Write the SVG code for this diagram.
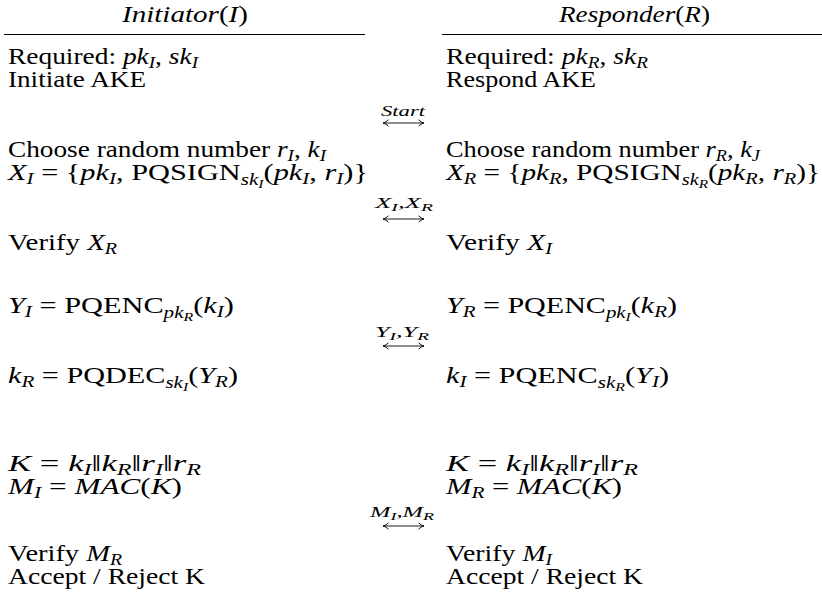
<svg xmlns="http://www.w3.org/2000/svg" width="822" height="605" viewBox="0 0 822 605">
<defs>
<style>
.t{font-family:"Liberation Serif",serif;font-size:23px;fill:#000}
.h{font-family:"Liberation Serif",serif;font-size:23px;fill:#000}
.i{font-style:italic}
.s{font-size:16px}
.ss{font-size:12px}
.lb{font-family:"Liberation Serif",serif;font-size:15px;font-style:italic;fill:#000}
.lbs{font-size:11px}
.rule{stroke:#000;stroke-width:1}
.arr{stroke:#000;stroke-width:0.9;fill:none;marker-start:url(#ah);marker-end:url(#ah)}
</style>
<marker id="ah" viewBox="0 0 8 8" refX="7" refY="4" markerWidth="8" markerHeight="8" markerUnits="userSpaceOnUse" orient="auto-start-reverse">
<path d="M1.5,0.8 Q4,3.3 7,4 Q4,4.7 1.5,7.2" fill="none" stroke="#000" stroke-width="0.9"/>
</marker>
</defs>
<rect width="822" height="605" fill="#fff"/>

<g id="initiator">
<text class="h" x="122" y="22" textLength="126" lengthAdjust="spacingAndGlyphs"><tspan class="i">Initiator</tspan>(<tspan class="i">I</tspan>)</text>
<line class="rule" x1="4" y1="34.5" x2="365" y2="34.5"/>
<text class="t" x="8" y="64" textLength="190" lengthAdjust="spacingAndGlyphs">Required: <tspan class="i">pk</tspan><tspan class="s i" dy="4">I</tspan><tspan dy="-4">, </tspan><tspan class="i">sk</tspan><tspan class="s i" dy="4">I</tspan></text>
<text class="t" x="8" y="87" textLength="138" lengthAdjust="spacingAndGlyphs">Initiate AKE</text>
<text class="t" x="8" y="157" textLength="318" lengthAdjust="spacingAndGlyphs">Choose random number <tspan class="i">r</tspan><tspan class="s i" dy="4">I</tspan><tspan dy="-4">, </tspan><tspan class="i">k</tspan><tspan class="s i" dy="4">I</tspan></text>
<text class="t" x="8" y="180" textLength="360" lengthAdjust="spacingAndGlyphs"><tspan class="i">X</tspan><tspan class="s i" dy="4">I</tspan><tspan dy="-4"> = {</tspan><tspan class="i">pk</tspan><tspan class="s i" dy="4">I</tspan><tspan dy="-4">, PQSIGN</tspan><tspan class="s i" dy="5">sk</tspan><tspan class="ss i" dy="3">I</tspan><tspan dy="-8">(</tspan><tspan class="i">pk</tspan><tspan class="s i" dy="4">I</tspan><tspan dy="-4">, </tspan><tspan class="i">r</tspan><tspan class="s i" dy="4">I</tspan><tspan dy="-4">)}</tspan></text>
<text class="t" x="8" y="250" textLength="109" lengthAdjust="spacingAndGlyphs">Verify <tspan class="i">X</tspan><tspan class="s i" dy="4">R</tspan></text>
<text class="t" x="8" y="313" textLength="226" lengthAdjust="spacingAndGlyphs"><tspan class="i">Y</tspan><tspan class="s i" dy="4">I</tspan><tspan dy="-4"> = PQENC</tspan><tspan class="s i" dy="5">pk</tspan><tspan class="ss i" dy="3">R</tspan><tspan dy="-8">(</tspan><tspan class="i">k</tspan><tspan class="s i" dy="4">I</tspan><tspan dy="-4">)</tspan></text>
<text class="t" x="8" y="383" textLength="230" lengthAdjust="spacingAndGlyphs"><tspan class="i">k</tspan><tspan class="s i" dy="4">R</tspan><tspan dy="-4"> = PQDEC</tspan><tspan class="s i" dy="5">sk</tspan><tspan class="ss i" dy="3">I</tspan><tspan dy="-8">(</tspan><tspan class="i">Y</tspan><tspan class="s i" dy="4">R</tspan><tspan dy="-4">)</tspan></text>
<text class="t" x="8" y="471" textLength="193" lengthAdjust="spacingAndGlyphs"><tspan class="i">K</tspan> = <tspan class="i">k</tspan><tspan class="s i" dy="4">I</tspan><tspan dy="-4">‖</tspan><tspan class="i">k</tspan><tspan class="s i" dy="4">R</tspan><tspan dy="-4">‖</tspan><tspan class="i">r</tspan><tspan class="s i" dy="4">I</tspan><tspan dy="-4">‖</tspan><tspan class="i">r</tspan><tspan class="s i" dy="4">R</tspan></text>
<text class="t" x="8" y="494" textLength="174" lengthAdjust="spacingAndGlyphs"><tspan class="i">M</tspan><tspan class="s i" dy="4">I</tspan><tspan dy="-4"> = </tspan><tspan class="i">MAC</tspan>(<tspan class="i">K</tspan>)</text>
<text class="t" x="8" y="561" textLength="114" lengthAdjust="spacingAndGlyphs">Verify <tspan class="i">M</tspan><tspan class="s i" dy="4">R</tspan></text>
<text class="t" x="8" y="584" textLength="197" lengthAdjust="spacingAndGlyphs">Accept / Reject K</text>
</g>

<g id="responder">
<text class="h" x="559" y="22" textLength="151" lengthAdjust="spacingAndGlyphs"><tspan class="i">Responder</tspan>(<tspan class="i">R</tspan>)</text>
<line class="rule" x1="442" y1="34.5" x2="822" y2="34.5"/>
<text class="t" x="446" y="64" textLength="202" lengthAdjust="spacingAndGlyphs">Required: <tspan class="i">pk</tspan><tspan class="s i" dy="4">R</tspan><tspan dy="-4">, </tspan><tspan class="i">sk</tspan><tspan class="s i" dy="4">R</tspan></text>
<text class="t" x="446" y="87" textLength="150" lengthAdjust="spacingAndGlyphs">Respond AKE</text>
<text class="t" x="446" y="157" textLength="314" lengthAdjust="spacingAndGlyphs">Choose random number <tspan class="i">r</tspan><tspan class="s i" dy="4">R</tspan><tspan dy="-4">, </tspan><tspan class="i">k</tspan><tspan class="s i" dy="4">J</tspan></text>
<text class="t" x="446" y="180" textLength="374" lengthAdjust="spacingAndGlyphs"><tspan class="i">X</tspan><tspan class="s i" dy="4">R</tspan><tspan dy="-4"> = {</tspan><tspan class="i">pk</tspan><tspan class="s i" dy="4">R</tspan><tspan dy="-4">, PQSIGN</tspan><tspan class="s i" dy="5">sk</tspan><tspan class="ss i" dy="3">R</tspan><tspan dy="-8">(</tspan><tspan class="i">pk</tspan><tspan class="s i" dy="4">R</tspan><tspan dy="-4">, </tspan><tspan class="i">r</tspan><tspan class="s i" dy="4">R</tspan><tspan dy="-4">)}</tspan></text>
<text class="t" x="446" y="250" textLength="106" lengthAdjust="spacingAndGlyphs">Verify <tspan class="i">X</tspan><tspan class="s i" dy="4">I</tspan></text>
<text class="t" x="446" y="313" textLength="231" lengthAdjust="spacingAndGlyphs"><tspan class="i">Y</tspan><tspan class="s i" dy="4">R</tspan><tspan dy="-4"> = PQENC</tspan><tspan class="s i" dy="5">pk</tspan><tspan class="ss i" dy="3">I</tspan><tspan dy="-8">(</tspan><tspan class="i">k</tspan><tspan class="s i" dy="4">R</tspan><tspan dy="-4">)</tspan></text>
<text class="t" x="446" y="383" textLength="223" lengthAdjust="spacingAndGlyphs"><tspan class="i">k</tspan><tspan class="s i" dy="4">I</tspan><tspan dy="-4"> = PQENC</tspan><tspan class="s i" dy="5">sk</tspan><tspan class="ss i" dy="3">R</tspan><tspan dy="-8">(</tspan><tspan class="i">Y</tspan><tspan class="s i" dy="4">I</tspan><tspan dy="-4">)</tspan></text>
<text class="t" x="446" y="471" textLength="192" lengthAdjust="spacingAndGlyphs"><tspan class="i">K</tspan> = <tspan class="i">k</tspan><tspan class="s i" dy="4">I</tspan><tspan dy="-4">‖</tspan><tspan class="i">k</tspan><tspan class="s i" dy="4">R</tspan><tspan dy="-4">‖</tspan><tspan class="i">r</tspan><tspan class="s i" dy="4">I</tspan><tspan dy="-4">‖</tspan><tspan class="i">r</tspan><tspan class="s i" dy="4">R</tspan></text>
<text class="t" x="446" y="494" textLength="176" lengthAdjust="spacingAndGlyphs"><tspan class="i">M</tspan><tspan class="s i" dy="4">R</tspan><tspan dy="-4"> = </tspan><tspan class="i">MAC</tspan>(<tspan class="i">K</tspan>)</text>
<text class="t" x="446" y="561" textLength="106" lengthAdjust="spacingAndGlyphs">Verify <tspan class="i">M</tspan><tspan class="s i" dy="4">I</tspan></text>
<text class="t" x="446" y="584" textLength="197" lengthAdjust="spacingAndGlyphs">Accept / Reject K</text>
</g>

<g id="connectors">
<text class="lb" x="381" y="116" textLength="44" lengthAdjust="spacingAndGlyphs">Start</text>
<line class="arr" x1="383" y1="123" x2="424" y2="123"/>
<text class="lb" x="375" y="208" textLength="58" lengthAdjust="spacingAndGlyphs">X<tspan class="lbs" dy="3">I</tspan><tspan dy="-3">,X</tspan><tspan class="lbs" dy="3">R</tspan></text>
<line class="arr" x1="383" y1="219" x2="424" y2="219"/>
<text class="lb" x="375" y="337" textLength="54" lengthAdjust="spacingAndGlyphs">Y<tspan class="lbs" dy="3">I</tspan><tspan dy="-3">,Y</tspan><tspan class="lbs" dy="3">R</tspan></text>
<line class="arr" x1="383" y1="346" x2="424" y2="346"/>
<text class="lb" x="370" y="517" textLength="64" lengthAdjust="spacingAndGlyphs">M<tspan class="lbs" dy="3">I</tspan><tspan dy="-3">,M</tspan><tspan class="lbs" dy="3">R</tspan></text>
<line class="arr" x1="383" y1="526" x2="424" y2="526"/>
</g>
</svg>
